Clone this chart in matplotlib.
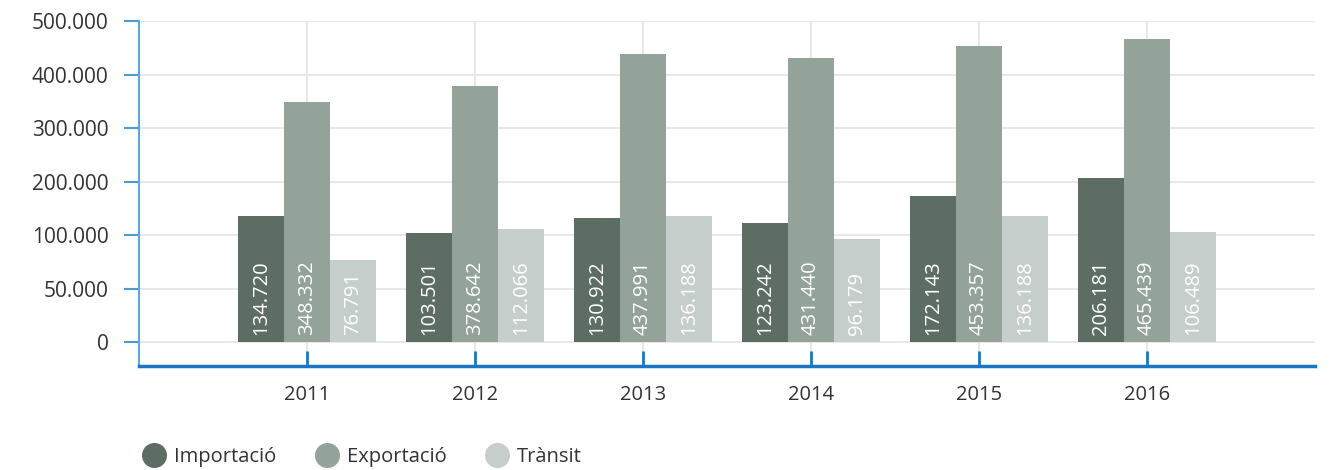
import matplotlib
matplotlib.use("Agg")
import matplotlib.pyplot as plt
from matplotlib.lines import Line2D
import numpy as np

years = ['2011', '2012', '2013', '2014', '2015', '2016']
importacio = [134720, 103501, 130922, 123242, 172143, 206181]
exportacio = [348332, 378642, 437991, 431440, 453357, 465439]
transit = [76791, 112066, 136188, 96179, 136188, 106489]
series_names = ['Importació', 'Exportació', 'Trànsit']
colors = ['#5d6d63', '#94a39a', '#c6cecb']
yticks = [0, 50000, 100000, 200000, 300000, 400000, 500000]

plt.rcParams['font.family'] = ['Open Sans', 'DejaVu Sans']


def fmt(v):
    return f'{v:,}'.replace(',', '.')


# the original axis is uneven: 50k steps up to 100k, then 100k steps
def fwd(v):
    v = np.asarray(v, dtype=float)
    return np.where(v <= 100000, v / 50000, 2 + (v - 100000) / 100000)


def inv(u):
    u = np.asarray(u, dtype=float)
    return np.where(u <= 2, u * 50000, 100000 + (u - 2) * 100000)


fig = plt.figure(figsize=(13.29, 4.70), dpi=100)
ax = fig.add_axes([139 / 1329, 1 - 366 / 470, (1315 - 139) / 1329, (366 - 21) / 470])
ax.set_yscale('function', functions=(fwd, inv))

x = np.arange(len(years))
w = 0.274
for i, (name, vals) in enumerate(zip(series_names, [importacio, exportacio, transit])):
    pos = x + (i - 1) * w
    ax.bar(pos, vals, width=w, color=colors[i], zorder=2, label=name)
    for p, v in zip(pos, vals):
        ax.annotate(fmt(v), (p, 0), xytext=(0, 5), textcoords='offset points',
                    rotation=90, ha='center', va='bottom', color='white',
                    fontsize=14.5, zorder=3)

ax.set_xlim(-1, len(years))
ax.set_ylim(-22400, 500000)
ax.set_yticks(yticks)
ax.set_yticklabels([fmt(t) for t in yticks])
ax.set_xticks(x)
ax.set_xticklabels(years)

ax.grid(True, color='#e4e4e4', linewidth=1.2, zorder=0)
ax.set_axisbelow(True)

for s in ['top', 'right']:
    ax.spines[s].set_visible(False)
ax.spines['left'].set_color('#5aa8dc')
ax.spines['left'].set_linewidth(1.5)
ax.spines['bottom'].set_color('#1a78c2')
ax.spines['bottom'].set_linewidth(2.5)

ax.tick_params(axis='y', length=11, width=1.5, color='#4a9bd3', pad=11,
               labelsize=15, labelcolor='#333333')
ax.tick_params(axis='x', direction='in', length=11, width=2, color='#1a78c2', pad=14,
               labelsize=14.5, labelcolor='#333333')

handles = [Line2D([], [], marker='o', linestyle='none', markersize=17,
                  markerfacecolor=c, markeredgecolor=c) for c in colors]
fig.legend(handles, series_names, loc='center left', bbox_to_anchor=(134 / 1329, 0.028),
           ncol=3, frameon=False, fontsize=14.5, handlelength=1.0, handletextpad=0.5,
           columnspacing=2.0, borderpad=0, labelcolor='#333333')

fig.savefig('out.png', dpi=100)
